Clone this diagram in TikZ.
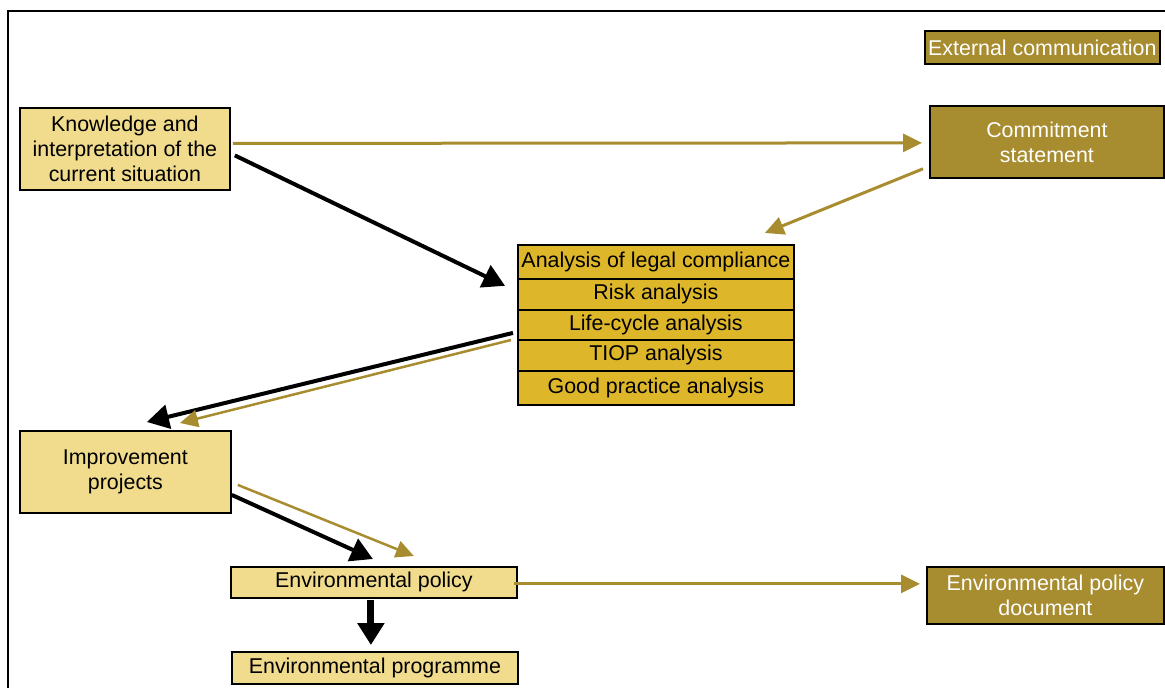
\documentclass[tikz,border=0pt]{standalone}
\usepackage{fontspec}
\setmainfont{Liberation Sans}
\usetikzlibrary{arrows.meta}
\definecolor{paleGold}{RGB}{240,220,140}
\definecolor{midGold}{RGB}{221,182,42}
\definecolor{darkGold}{RGB}{168,140,48}
\begin{document}
\begin{tikzpicture}[x=1pt,y=-1pt,
  font=\fontsize{21.4}{25}\selectfont,
  boxbase/.style={draw=black,line width=1.8pt,inner sep=0pt,align=center,anchor=north west},
  palebox/.style={boxbase,fill=paleGold,text=black},
  stackrow/.style={boxbase,fill=midGold,text=black,minimum width=276pt},
  darkbox/.style={boxbase,fill=darkGold,text=white},
  goldarrow/.style={draw=darkGold,line width=3pt,-{Triangle[length=19pt,width=18pt]}},
  thingold/.style={draw=darkGold,line width=2.5pt,-{Triangle[length=18pt,width=17pt]}},
  blackarrow/.style={draw=black,line width=4pt,-{Triangle[length=22pt,width=24pt]}},
  heavyarrow/.style={draw=black,line width=7pt,-{Triangle[length=22pt,width=26pt]}}
]
\useasboundingbox (0,0) rectangle (1165,688);

% frame along the left and top edges
\draw[line width=2.5pt] (8,688) -- (8,11) -- (1165,11);

% boxes
\node[darkbox,minimum width=235pt,minimum height=33pt] (ext) at (924,30) {External communication};
\node[palebox,minimum width=210pt,minimum height=82pt] (know) at (19,107)
  {Knowledge and\\interpretation of the\\current situation};
\node[darkbox,minimum width=234pt,minimum height=72pt] (comm) at (929,105) {Commitment\\statement};

% analysis stack
\node[stackrow,minimum height=34pt] (legal) at (517,244) {Analysis of legal compliance};
\node[stackrow,minimum height=31pt] (risk) at (517,278) {Risk analysis};
\node[stackrow,minimum height=30pt] (life) at (517,309) {Life-cycle analysis};
\node[stackrow,minimum height=31pt] (tiop) at (517,339) {TIOP analysis};
\node[stackrow,minimum height=34pt] (good) at (517,370) {Good practice analysis};

\node[palebox,minimum width=211pt,minimum height=82pt] (impr) at (19,430) {Improvement\\projects};
\node[palebox,minimum width=286pt,minimum height=31pt] (policy) at (230,566) {Environmental policy};
\node[palebox,minimum width=286pt,minimum height=32pt] (prog) at (231,651) {Environmental programme};
\node[darkbox,minimum width=237pt,minimum height=57pt] (doc) at (926,566) {Environmental policy\\document};

% connectors
\draw[goldarrow] ([shift={(2,-5.5)}]know.east) -- ([shift={(-7,1)}]comm.west);
\draw[goldarrow] ([shift={(-6,-10)}]comm.south west) -- ([shift={(-30,-11)}]legal.north east);
\draw[blackarrow] ([shift={(4,6.5)}]know.east) -- ([shift={(-12,6)}]legal.south west);
\draw[blackarrow] ([shift={(-4,8)}]life.west) -- ([shift={(21.5,-8)}]impr.north);
\draw[thingold] ([shift={(-6,1)}]tiop.north west) -- ([shift={(54.5,-7)}]impr.north);
\draw[blackarrow] ([shift={(0,23)}]impr.east) -- ([shift={(-1,-7)}]policy.north);
\draw[thingold] ([shift={(6,13)}]impr.east) -- ([shift={(40,-10)}]policy.north);
\draw[goldarrow] ([shift={(-4,1.5)}]policy.east) -- ([shift={(-6,-11.5)}]doc.west);
\draw[heavyarrow] ([shift={(-3,1)}]policy.south) -- ([shift={(-4,-6)}]prog.north);
\end{tikzpicture}
\end{document}
